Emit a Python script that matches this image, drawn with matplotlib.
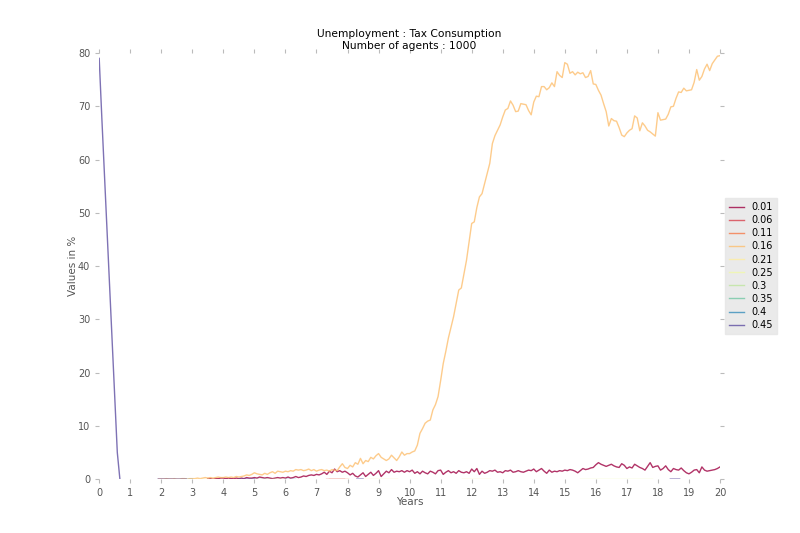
import matplotlib
matplotlib.use('Agg')
import matplotlib.pyplot as plt
import numpy as np

nan = np.nan

labels = ['0.01', '0.06', '0.11', '0.16', '0.21', '0.25', '0.3', '0.35', '0.4', '0.45']

# monthly values, years 0..20
tax_016 = [nan] * 12 + [nan] * 11 + [0.0] + [
    0.0, 0.0, 0.1, 0.0, 0.0, 0.1, 0.0, 0.0, 0.1, 0.1, 0.0, 0.1,
    0.1, 0.1, 0.2, 0.1, 0.2, 0.3, 0.2, 0.3, 0.2, 0.3, 0.4, 0.3,
    0.3, 0.4, 0.3, 0.4, 0.3, 0.5, 0.4, 0.5, 0.6, 0.8, 0.7, 0.9,
    1.2, 1.0, 0.9, 0.8, 1.1, 0.9, 1.2, 1.4, 1.1, 1.5, 1.4, 1.3,
    1.5, 1.4, 1.6, 1.5, 1.8, 1.7, 1.8, 1.6, 1.7, 1.9, 1.6, 1.8,
    1.5, 1.7, 1.8, 1.6, 1.7, 1.5, 1.8, 1.7, 1.6, 2.3, 2.9, 2.2,
    2.0, 2.6, 2.3, 3.1, 2.8, 3.9, 2.9, 3.5, 3.3, 4.1, 3.8, 4.4,
    4.8, 4.1, 3.8, 3.5, 3.8, 4.5, 4.0, 3.5, 4.2, 5.1, 4.5, 4.8,
    4.8, 5.1, 5.3, 6.4, 8.6, 9.5, 10.5, 10.9, 11.1, 13.0, 14.0, 15.5,
    18.5, 21.7, 24.0, 26.5, 28.5, 30.5, 33.0, 35.5, 35.9, 38.5, 41.1, 44.5,
    48.0, 48.3, 51.0, 53.0, 53.6, 55.5, 57.4, 59.3, 63.0, 64.5, 65.5, 66.5,
    68.0, 69.3, 69.6, 71.0, 70.2, 69.0, 69.1, 70.5, 70.4, 70.3, 69.2, 68.4,
    70.8, 71.9, 71.8, 73.7, 73.7, 73.1, 73.5, 74.4, 73.7, 76.5, 75.8, 75.4,
    78.2, 77.9, 76.2, 76.5, 75.9, 76.4, 76.1, 76.3, 75.4, 75.6, 76.7, 74.2,
    74.1, 73.0, 72.1, 70.5, 69.0, 66.3, 67.7, 67.3, 67.2, 66.0, 64.6, 64.3,
    65.0, 65.5, 65.8, 68.2, 67.8, 65.4, 66.9, 66.3, 65.5, 65.2, 64.8, 64.4,
    68.8, 67.4, 67.5, 67.6, 68.5, 69.9, 70.0, 71.5, 72.7, 72.6, 73.4, 72.9,
    73.0, 73.1, 74.5, 76.9, 74.9, 75.6, 77.0, 77.9, 76.7, 78.0, 78.7, 79.4,
    79.5]

tax_001 = [nan] * 36 + [nan] * 6 + [0.1, 0.1, 0.0, 0.1, 0.1, 0.2] + [
    0.2, 0.1, 0.2, 0.1, 0.1, 0.2, 0.1, 0.2, 0.1, 0.3, 0.2, 0.2,
    0.3, 0.2, 0.4, 0.3, 0.2, 0.3, 0.2, 0.1, 0.2, 0.3, 0.2, 0.3,
    0.2, 0.4, 0.2, 0.3, 0.5, 0.3, 0.4, 0.6, 0.5, 0.7, 0.8, 0.7,
    0.9, 0.8, 1.0, 1.3, 0.9, 1.5, 1.2, 1.9, 1.4, 1.6, 1.3, 1.5,
    1.2, 0.8, 1.1, 0.6, 0.4, 0.8, 1.2, 0.5, 0.9, 1.3, 0.7, 1.1,
    1.6, 0.5, 1.0, 1.5, 1.2, 1.8, 1.3, 1.5, 1.4, 1.6, 1.3, 1.6,
    1.4, 1.7, 1.1, 1.4, 1.0, 1.5, 1.2, 1.0, 1.5, 1.3, 1.0, 1.6,
    1.7, 0.9, 1.3, 1.6, 1.2, 1.4, 1.1, 1.6, 1.3, 1.2, 1.4, 1.1,
    1.9, 1.4, 2.0, 0.9, 1.5, 1.1, 1.3, 1.6, 1.5, 1.7, 1.3, 1.4,
    1.2, 1.6, 1.5, 1.7, 1.3, 1.4, 1.6, 1.4, 1.3, 1.5, 1.7, 1.6,
    1.9, 1.4, 1.7, 2.0, 1.5, 1.1, 1.7, 1.3, 1.5, 1.4, 1.6, 1.5,
    1.7, 1.6, 1.8, 1.7, 1.5, 1.2, 1.6, 2.0, 1.8, 1.9, 2.1, 2.2,
    2.7, 3.1, 2.8, 2.6, 2.4, 2.6, 2.8, 2.5, 2.3, 2.2, 2.9, 2.6,
    2.0, 2.3, 2.1, 2.8, 2.5, 2.2, 2.0, 1.7, 2.4, 3.1, 2.2, 2.4,
    2.5, 1.7, 2.0, 2.5, 1.8, 1.4, 2.0, 1.8, 1.7, 2.1, 1.6, 1.2,
    1.0, 1.3, 1.7, 1.8, 1.2, 2.3, 1.7, 1.5, 1.6, 1.7, 1.8, 2.0,
    2.3]

# 0.45: steep fall at the start, then short stretches at zero
tax_045_x = [0, 1/12, 2/12, 3/12, 4/12, 5/12, 6/12, 7/12, 8/12, nan,
             1.9, 2.8, nan, 4.5, 5.0, nan, 8.3, 8.5, nan, 18.4, 18.7]
tax_045_y = [79, 68, 57.5, 47, 36.5, 26, 15.5, 5, 0.0, nan,
             0, 0, nan, 0, 0, nan, 0, 0, nan, 0, 0]

# series that stay at zero (only short stretches visible)
tax_006_x = [1.9, 2.3, nan, 7.3, 7.9]
tax_006_y = [0, 0, nan, 0, 0]
tax_011_x = [3.5, 3.8, nan, 7.4, 8.0]
tax_011_y = [0, 0, nan, 0, 0]
tax_021_x = [3.0, 3.5, nan, 8.5, 9.6, nan, 11.7, 12.6]
tax_021_y = [0, 0, nan, 0, 0, nan, 0, 0]
tax_025_x = [5.6, 6.0, nan, 15.5, 17.8]
tax_025_y = [0, 0, nan, 0, 0]
tax_030_x = [5.3, 5.7]
tax_030_y = [0, 0]
tax_035_x = [5.0, 5.4]
tax_035_y = [0, 0]
tax_040_x = [2.8, 3.0, nan, 6.0, 6.3]
tax_040_y = [0, 0, nan, 0, 0]

months = np.arange(len(tax_016)) / 12.0

colors = plt.cm.Spectral(np.linspace(0, 1, 10))

fig = plt.figure(figsize=(8, 5.33), dpi=100)
ax = fig.add_axes([0.124, 0.101, 0.776, 0.7995])

series = [
    (months, tax_001), (tax_006_x, tax_006_y), (tax_011_x, tax_011_y),
    (months, tax_016), (tax_021_x, tax_021_y), (tax_025_x, tax_025_y),
    (tax_030_x, tax_030_y), (tax_035_x, tax_035_y), (tax_040_x, tax_040_y),
    (tax_045_x, tax_045_y),
]
for (xs, ys), lab, c in zip(series, labels, colors):
    ax.plot(xs, ys, color=c, lw=1, alpha=0.8, label=lab)

ax.set_xlim(0, 20)
ax.set_ylim(0, 80)
ax.set_xticks(range(0, 21))
ax.set_yticks(range(0, 81, 10))
for s in ax.spines.values():
    s.set_visible(False)
ax.tick_params(axis='both', which='both', top=True, right=True, direction='out',
               length=3, color='#bbbbbb', labelsize=7, labelcolor='#555555')
ax.set_xlabel('Years', fontsize=7.5, color='#555555', labelpad=-1)
ax.set_ylabel('Values in %', fontsize=7.5, color='#555555', labelpad=0)
ax.set_title('Unemployment : Tax Consumption\nNumber of agents : 1000', fontsize=7.7, pad=3)

leg = ax.legend(loc='center left', bbox_to_anchor=(1.0, 0.5), fontsize=7,
                frameon=True, fancybox=False, borderaxespad=0.5,
                handlelength=1.6, labelspacing=0.32, handletextpad=0.7)
leg.get_frame().set_facecolor('#e5e5e5')
leg.get_frame().set_edgecolor('#e5e5e5')

fig.savefig('out.png', dpi=100)
plt.close()
